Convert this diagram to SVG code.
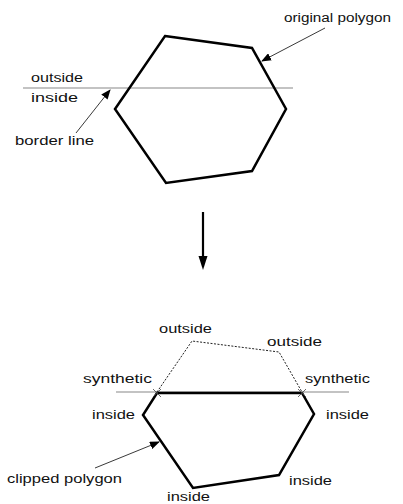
<svg xmlns="http://www.w3.org/2000/svg" width="403" height="504" viewBox="0 0 403 504">
<defs>
<marker id="ah" markerWidth="10" markerHeight="8" refX="9" refY="4" orient="auto" markerUnits="userSpaceOnUse">
<path d="M0,0 L10,4 L0,8 Z" fill="#000"/>
</marker>
<style>
text{font-family:"Liberation Sans",Arial,sans-serif;font-size:12px;fill:#111;}
.poly{fill:none;stroke:#000;stroke-width:2.5;stroke-linejoin:miter;}
.border{stroke:#888;stroke-width:1.2;fill:none;}
.arr{stroke:#222;stroke-width:0.9;fill:none;marker-end:url(#ah);}
.dash{fill:none;stroke:#222;stroke-width:1;stroke-dasharray:2,1.5;}
.x{stroke:#444;stroke-width:0.8;}
</style>
</defs>
<rect width="403" height="504" fill="#fff"/>
<g id="top-border">
<line class="border" x1="23" y1="88" x2="293" y2="88"/>
<text x="31" y="82" textLength="52" lengthAdjust="spacingAndGlyphs">outside</text>
<text x="31" y="102" textLength="47" lengthAdjust="spacingAndGlyphs">inside</text>
</g>
<g id="original-polygon">
<polygon class="poly" points="165,36 252,48 286,109 252,171 166,183 115,109"/>
</g>
<g id="label-original">
<text x="284" y="22" textLength="107" lengthAdjust="spacingAndGlyphs">original polygon</text>
</g>
<g id="label-border">
<text x="15" y="145" textLength="79" lengthAdjust="spacingAndGlyphs">border line</text>
</g>
<g id="bottom-border">
<line class="border" x1="116" y1="392" x2="349" y2="392"/>
</g>
<g id="dashed-outside">
<polyline class="dash" points="157,392 192,341 279,352 302,392"/>
</g>
<g id="clipped-polygon">
<polygon class="poly" points="157,393 302,393 314,414 279,475 193,488 143,415"/>
<path class="x" d="M153,389 L161,397 M161,389 L153,397 M298,389 L306,397 M306,389 L298,397"/>
</g>
<g id="labels-bottom">
<text x="159" y="333" textLength="53" lengthAdjust="spacingAndGlyphs">outside</text>
<text x="267" y="346" textLength="55" lengthAdjust="spacingAndGlyphs">outside</text>
<text x="83" y="383" textLength="69" lengthAdjust="spacingAndGlyphs">synthetic</text>
<text x="305" y="383" textLength="65" lengthAdjust="spacingAndGlyphs">synthetic</text>
<text x="92" y="419" textLength="43" lengthAdjust="spacingAndGlyphs">inside</text>
<text x="326" y="419" textLength="43" lengthAdjust="spacingAndGlyphs">inside</text>
<text x="7" y="483" textLength="115" lengthAdjust="spacingAndGlyphs">clipped polygon</text>
<text x="289" y="485" textLength="43" lengthAdjust="spacingAndGlyphs">inside</text>
<text x="167" y="501" textLength="43" lengthAdjust="spacingAndGlyphs">inside</text>
</g>
<g id="connectors">
<line class="arr" x1="325" y1="28" x2="262" y2="61"/>
<line class="arr" x1="76" y1="133" x2="110" y2="90"/>
<line class="arr" x1="95" y1="468" x2="159" y2="442"/>
<line x1="203" y1="212" x2="203" y2="258" stroke="#000" stroke-width="2.2"/>
<path d="M198.5,256 L207.5,256 L203,270 Z" fill="#000"/>
</g>
</svg>
